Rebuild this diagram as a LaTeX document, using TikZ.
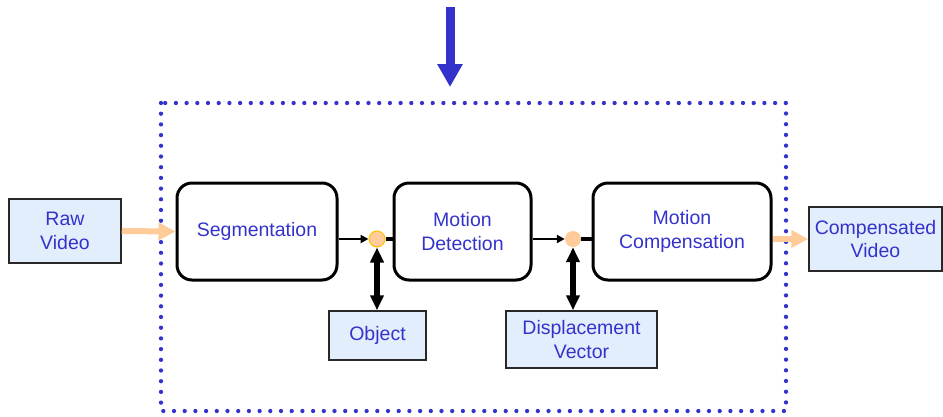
\documentclass[tikz,border=0pt]{standalone}
\usepackage{fontspec}
\setmainfont{Liberation Sans}
\usetikzlibrary{arrows.meta}
\definecolor{txtblue}{RGB}{51,51,204}
\definecolor{boxfill}{RGB}{227,238,252}
\definecolor{peach}{RGB}{255,204,153}
\definecolor{circedge}{RGB}{255,192,0}
\definecolor{edgegray}{RGB}{40,40,40}
\tikzset{
  lbl/.style={text=txtblue, font=\fontsize{19.5}{23.5}\selectfont, align=center, inner sep=0pt},
  procbox/.style={lbl, draw=black, line width=3pt, rounded corners=15pt},
  databox/.style={lbl, draw=edgegray, line width=1.5pt, fill=boxfill},
  joint/.style={circle, fill=peach, minimum size=16pt, inner sep=0pt},
  flowarrow/.style={draw=peach, line width=6pt, -{Triangle[length=17pt,width=17pt]}},
  smallarrow/.style={draw=black, line width=2pt, -{Triangle[length=8pt,width=8pt]}},
  dblarrow/.style={draw=black, line width=5.5pt, {Triangle[length=15pt,width=13pt]}-{Triangle[length=15pt,width=13pt]}},
  dotframe/.style={draw=txtblue, line width=4.3pt, line cap=round, dash pattern=on 0pt off 10.7pt},
  bigarrow/.style={draw=txtblue, line width=9pt, -{Triangle[length=23pt,width=24pt]}}
}
\begin{document}
\begin{tikzpicture}[x=1pt,y=-1pt]
\useasboundingbox (0,0) rectangle (943,416);
% frame
\draw[dotframe] (161,103) rectangle (786,411);
% top arrow
\coordinate (topin) at (450,7);
\coordinate (topout) at (450,87);
\draw[bigarrow] (topin) -- (topout);
% nodes
\node[databox, minimum width=112pt, minimum height=64pt] (raw) at (65,231) {Raw\\Video};
\node[procbox, minimum width=160pt, minimum height=97pt] (seg) at (257,231.5) {Segmentation};
\node[procbox, minimum width=137pt, minimum height=97pt] (md) at (462.5,231.5) {Motion\\Detection};
\node[procbox, minimum width=178pt, minimum height=97pt] (mc) at (682,231.5) {Motion\\Compensation};
\node[databox, minimum width=133pt, minimum height=64pt] (comp) at (875.5,239) {Compensated\\Video};
\node[databox, minimum width=97pt, minimum height=49pt] (obj) at (377.5,335.5) {Object};
\node[databox, minimum width=151pt, minimum height=57pt] (disp) at (581.5,339.5) {Displacement\\Vector};
\node[joint, draw=circedge, line width=1pt] (c1) at (377,239) {};
\node[joint] (c2) at (573,239) {};
% connectors
\draw[flowarrow] (raw.east) -- (seg.west);
\draw[flowarrow] (mc.east |- comp.west) -- (comp.west);
\draw[smallarrow] (seg.east |- c1) -- (c1.west);
\draw[draw=black, line width=4pt] (c1.east) -- (md.west |- c1);
\draw[smallarrow] (md.east |- c2) -- (c2.west);
\draw[draw=black, line width=4pt] (c2.east) -- (mc.west |- c2);
\draw[dblarrow] (c1.south) -- (obj.north -| c1);
\draw[dblarrow] (c2.south) -- (disp.north -| c2);
\end{tikzpicture}
\end{document}
